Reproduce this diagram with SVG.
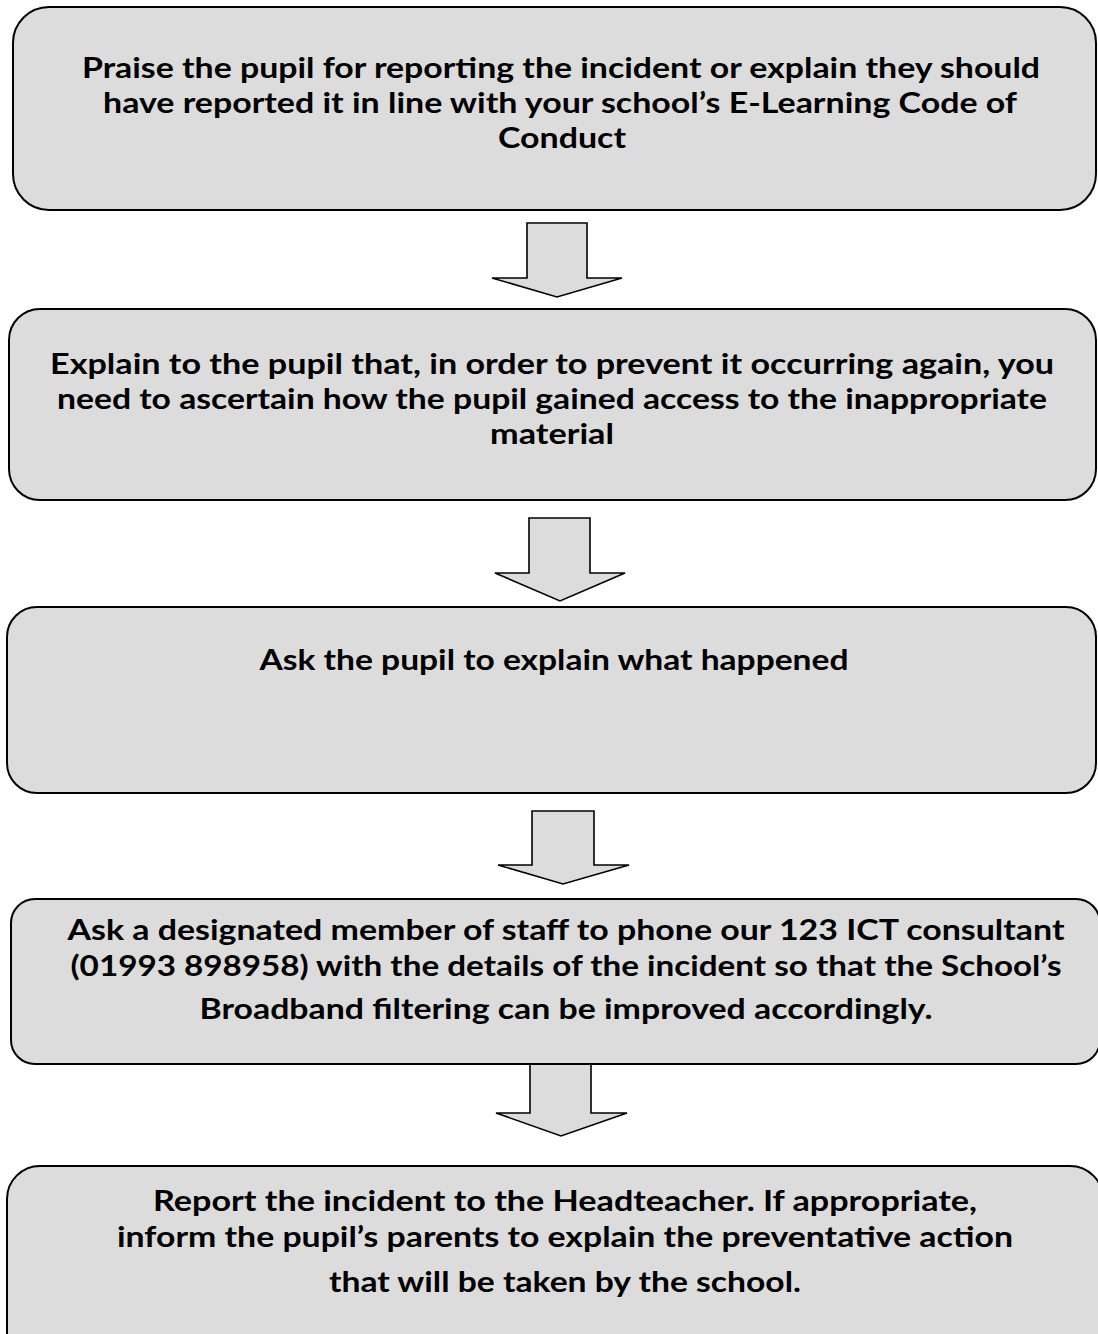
<svg xmlns="http://www.w3.org/2000/svg" width="1098" height="1334" viewBox="0 0 1098 1334">
<style>
.box{fill:#dcdcdc;stroke:#000;stroke-width:2}
.arr{fill:#dcdcdc;stroke:#000;stroke-width:1.6;stroke-linejoin:miter}
text{font-family:Lato,"Open Sans","Liberation Sans",sans-serif;font-weight:bold;font-size:29px;fill:#000;text-anchor:middle}
</style>
<rect width="1098" height="1334" fill="#fff"/>
<g id="connectors">
<path class="arr" d="M527,223 H587 V278 H622 L557,297 L492,278 H527 Z"/>
<path class="arr" d="M529,518 H590 V573 H625 L560,601 L495,573 H529 Z"/>
<path class="arr" d="M532,811 H594 V865 H629 L563,884 L498,865 H532 Z"/>
<path class="arr" d="M530,1034 H591 V1113 H627 L561,1136 L496,1113 H530 Z"/>
</g>
<g id="n1">
<rect class="box" x="13" y="7" width="1083" height="203" rx="36" ry="36"/>
<text x="561" y="78" textLength="958" lengthAdjust="spacingAndGlyphs">Praise the pupil for reporting the incident or explain they should</text>
<text x="560" y="113" textLength="914" lengthAdjust="spacingAndGlyphs">have reported it in line with your school’s E-Learning Code of</text>
<text x="562" y="148" textLength="128" lengthAdjust="spacingAndGlyphs">Conduct</text>
</g>
<g id="n2">
<rect class="box" x="9" y="309" width="1087" height="191" rx="31" ry="31"/>
<text x="552" y="374" textLength="1004" lengthAdjust="spacingAndGlyphs">Explain to the pupil that, in order to prevent it occurring again, you</text>
<text x="552" y="409" textLength="990" lengthAdjust="spacingAndGlyphs">need to ascertain how the pupil gained access to the inappropriate</text>
<text x="552" y="444" textLength="124" lengthAdjust="spacingAndGlyphs">material</text>
</g>
<g id="n3">
<rect class="box" x="7" y="607" width="1089" height="186" rx="30" ry="30"/>
<text x="554" y="670" textLength="589" lengthAdjust="spacingAndGlyphs">Ask the pupil to explain what happened</text>
</g>
<g id="n4">
<rect class="box" x="11" y="899" width="1089" height="165" rx="24" ry="24"/>
<text x="566" y="940" textLength="997" lengthAdjust="spacingAndGlyphs">Ask a designated member of staff to phone our 123 ICT consultant</text>
<text x="566" y="976" textLength="991" lengthAdjust="spacingAndGlyphs">(01993 898958) with the details of the incident so that the School’s</text>
<text x="566" y="1019" textLength="733" lengthAdjust="spacingAndGlyphs">Broadband filtering can be improved accordingly.</text>
</g>
<g id="n5">
<rect class="box" x="7" y="1166" width="1096" height="200" rx="33" ry="33"/>
<text x="565" y="1211" textLength="824" lengthAdjust="spacingAndGlyphs">Report the incident to the Headteacher. If appropriate,</text>
<text x="565" y="1247" textLength="896" lengthAdjust="spacingAndGlyphs">inform the pupil’s parents to explain the preventative action</text>
<text x="565" y="1292" textLength="472" lengthAdjust="spacingAndGlyphs">that will be taken by the school.</text>
</g>
</svg>
